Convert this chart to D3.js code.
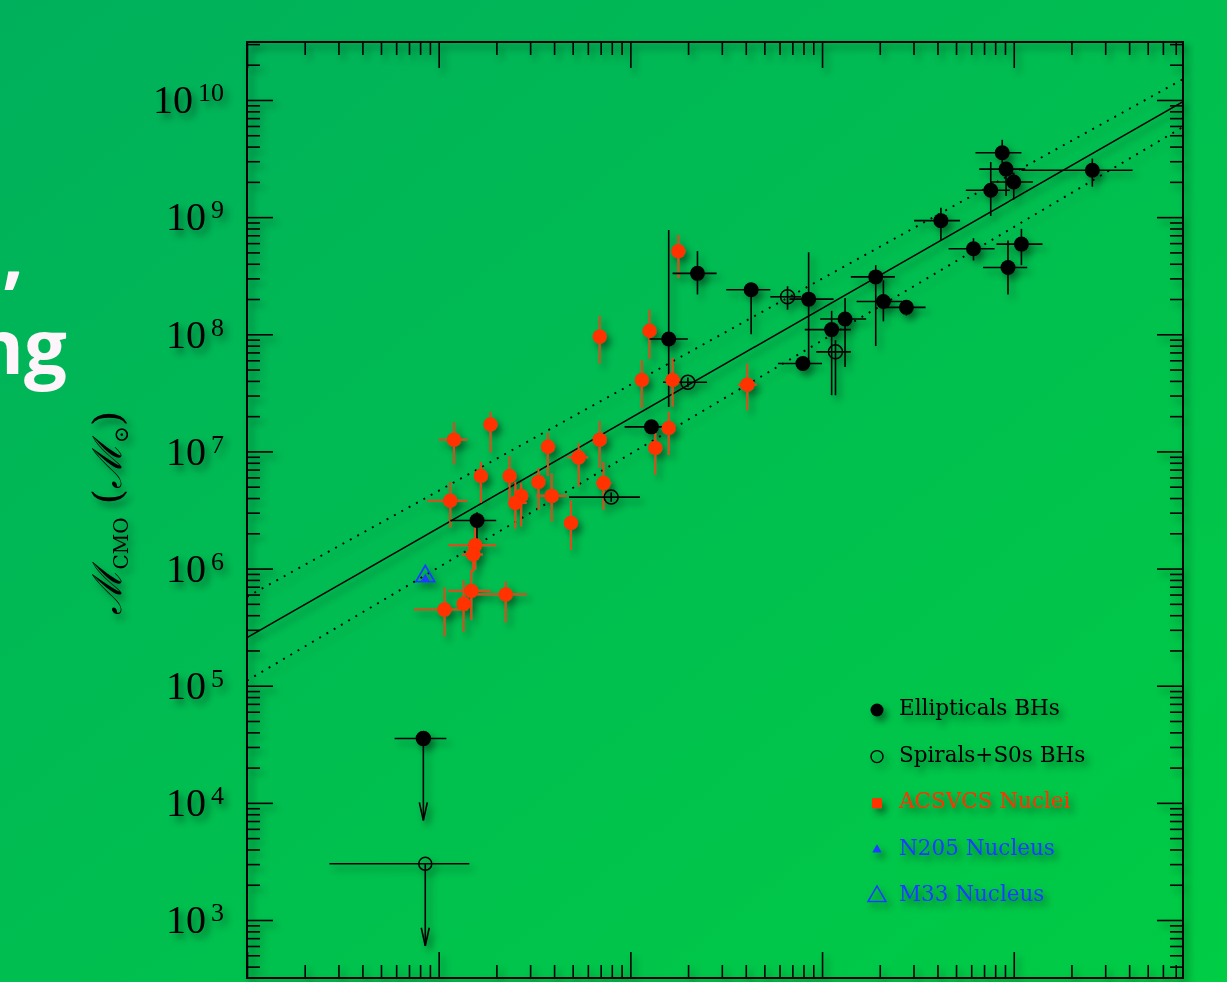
<!DOCTYPE html>
<html>
<head>
<meta charset="utf-8">
<script src="https://cdn.jsdelivr.net/npm/d3@7"></script>
<style>
  html, body { margin: 0; padding: 0; overflow: hidden; }
</style>
</head>
<body>
<div id="chart"></div>
<script>
// All values are log10. Rows: [M_gal, M_gal low, M_gal high, M_CMO, M_CMO low, M_CMO high]
const ellipticals = [
  [9.20, 9.06, 9.30, 6.41, 6.25, 6.48],
  [10.11, 9.97, 10.18, 7.21, 7.17, 7.25],
  [10.20, 10.10, 10.30, 7.96, 7.38, 8.89],
  [10.35, 10.22, 10.45, 8.52, 8.34, 8.71],
  [10.63, 10.50, 10.73, 8.38, 8.00, 8.38],
  [10.93, 10.83, 11.06, 8.30, 7.76, 8.70],
  [10.90, 10.77, 11.00, 7.75, 7.75, 7.75],
  [11.05, 10.91, 11.15, 8.04, 7.48, 8.20],
  [11.12, 10.99, 11.23, 8.13, 7.72, 8.31],
  [11.28, 11.15, 11.38, 8.49, 7.90, 8.59],
  [11.32, 11.18, 11.42, 8.28, 8.11, 8.46],
  [11.44, 11.33, 11.54, 8.23, 8.16, 8.29],
  [11.62, 11.48, 11.72, 8.97, 8.80, 9.08],
  [11.79, 11.66, 11.90, 8.73, 8.63, 8.82],
  [11.97, 11.84, 12.07, 8.57, 8.34, 8.80],
  [12.04, 11.91, 12.15, 8.77, 8.59, 8.90],
  [11.88, 11.75, 11.98, 9.23, 9.01, 9.47],
  [11.94, 11.80, 12.04, 9.55, 9.46, 9.66],
  [11.96, 11.82, 12.06, 9.41, 9.18, 9.47],
  [12.00, 11.88, 12.10, 9.30, 9.15, 9.38],
  [12.41, 12.04, 12.62, 9.40, 9.26, 9.50]
];

const spirals = [
  [9.90, 9.68, 10.05, 6.61, 6.57, 6.65],
  [10.30, 10.17, 10.40, 7.59, 7.55, 7.63],
  [10.82, 10.73, 10.89, 8.32, 8.21, 8.41],
  [11.07, 10.97, 11.15, 7.85, 7.48, 7.95]
];

const acsvcsNuclei = [
  [9.08, 9.00, 9.15, 7.10, 6.89, 7.25],
  [9.27, 9.27, 9.27, 7.23, 6.99, 7.34],
  [9.22, 9.22, 9.22, 6.79, 6.56, 6.91],
  [9.37, 9.37, 9.37, 6.79, 6.59, 6.96],
  [9.57, 9.57, 9.57, 7.04, 6.79, 7.16],
  [9.52, 9.52, 9.52, 6.74, 6.50, 6.86],
  [9.59, 9.51, 9.67, 6.62, 6.40, 6.81],
  [9.43, 9.43, 9.43, 6.62, 6.36, 6.73],
  [9.40, 9.36, 9.46, 6.56, 6.34, 6.74],
  [9.06, 8.94, 9.15, 6.58, 6.35, 6.74],
  [9.69, 9.69, 9.69, 6.39, 6.16, 6.58],
  [9.73, 9.67, 9.78, 6.95, 6.70, 7.07],
  [9.19, 9.05, 9.30, 6.20, 5.99, 6.37],
  [9.18, 9.12, 9.23, 6.12, 5.97, 6.25],
  [9.17, 9.05, 9.27, 5.81, 5.56, 5.99],
  [9.35, 9.20, 9.46, 5.78, 5.54, 5.89],
  [9.13, 9.13, 9.13, 5.70, 5.46, 5.90],
  [9.03, 8.87, 9.15, 5.65, 5.42, 5.84],
  [9.84, 9.84, 9.84, 7.98, 7.75, 8.16],
  [10.10, 10.10, 10.10, 8.03, 7.79, 8.21],
  [10.25, 10.25, 10.25, 8.71, 8.48, 8.85],
  [10.06, 10.06, 10.06, 7.61, 7.37, 7.78],
  [10.22, 10.18, 10.26, 7.61, 7.38, 7.80],
  [10.20, 10.20, 10.20, 7.20, 6.97, 7.34],
  [10.13, 10.13, 10.13, 7.03, 6.80, 7.21],
  [9.84, 9.84, 9.84, 7.10, 6.86, 7.26],
  [9.86, 9.82, 9.90, 6.73, 6.50, 6.91],
  [10.61, 10.56, 10.66, 7.57, 7.35, 7.75]
];

// upper limits: [M_gal, low, high, M_CMO limit]
const ellipticalLimits = [[8.92, 8.77, 9.04, 4.55]];
const spiralLimits = [[8.93, 8.43, 9.16, 3.48]];

// single nuclei: [M_gal, M_CMO]
const n205Nucleus = [8.93, 5.91];
const m33Nucleus = [8.93, 5.935];

// fits: [log M_CMO at log M_gal = 8, slope]
const fitSolid = [5.41, 0.937];
const fitUpper = [5.759, 0.905];
const fitLower = [5.043, 0.968];

const xDomainLog = [8, 12.883];
const yDomainLog = [2.505, 10.495];
const yTickExps = [3, 4, 5, 6, 7, 8, 9, 10];

const legendLabels = ["Ellipticals BHs", "Spirals+S0s BHs", "ACSVCS Nuclei", "N205 Nucleus", "M33 Nucleus"];

// ---------------------------------------------------------------
const width = 1227, height = 982;
const frame = { left: 247, right: 1183, top: 42, bottom: 978 };
const red = "#ff3000", redBar = "#e4461a", blue = "#1c3cff";
const p10 = v => Math.pow(10, v);

const svg = d3.select("#chart").append("svg")
  .attr("width", width)
  .attr("height", height)
  .style("display", "block");

const defs = svg.append("defs");
const grad = defs.append("linearGradient")
  .attr("id", "bg").attr("x1", "0").attr("y1", "0").attr("x2", "1").attr("y2", "1");
grad.append("stop").attr("offset", "0").attr("stop-color", "#00b05c");
grad.append("stop").attr("offset", "1").attr("stop-color", "#00cc44");

const shadow = defs.append("filter").attr("id", "shadow")
  .attr("x", "-20%").attr("y", "-20%").attr("width", "140%").attr("height", "140%");
shadow.append("feDropShadow")
  .attr("dx", 4).attr("dy", 5).attr("stdDeviation", 3.5)
  .attr("flood-color", "#000").attr("flood-opacity", 0.45);

defs.append("clipPath").attr("id", "plotClip")
  .append("rect")
  .attr("x", frame.left).attr("y", frame.top)
  .attr("width", frame.right - frame.left).attr("height", frame.bottom - frame.top);

svg.append("rect").attr("width", width).attr("height", height).attr("fill", "url(#bg)");

// slide title remnants on the left
const title = svg.append("g")
  .attr("font-family", "'Open Sans', 'Noto Sans', sans-serif")
  .attr("font-weight", 700)
  .attr("font-size", 76)
  .attr("fill", "#fdf5fa")
  .attr("text-anchor", "end");
title.append("text").attr("x", 24).attr("y", 280).text("s,");
title.append("text").attr("x", 67).attr("y", 374).text("ng");

// scales
const x = d3.scaleLog().domain(xDomainLog.map(p10)).range([frame.left, frame.right]);
const y = d3.scaleLog().domain(yDomainLog.map(p10)).range([frame.bottom, frame.top]);

const plot = svg.append("g").attr("filter", "url(#shadow)");

// tick values
function majorMinor(domainLog) {
  const major = [], minor = [];
  for (let e = Math.floor(domainLog[0]); e <= Math.ceil(domainLog[1]); e++) {
    for (let k = 1; k <= 9; k++) {
      const v = k * p10(e);
      const lv = Math.log10(v);
      if (lv < domainLog[0] - 1e-6 || lv > domainLog[1] + 1e-6) continue;
      (k === 1 ? major : minor).push(v);
    }
  }
  return { major, minor };
}
const xt = majorMinor(xDomainLog);
const yt = majorMinor(yDomainLog);

function drawAxis(axisFn, scale, values, size, transform) {
  const g = plot.append("g")
    .attr("transform", transform)
    .call(axisFn(scale).tickValues(values).tickSize(-size).tickFormat(""));
  g.select(".domain").remove();
  g.selectAll(".tick line").attr("stroke", "#000").attr("stroke-width", 1.6);
  return g;
}

const majorLen = 26, minorLen = 13;
drawAxis(d3.axisBottom, x, xt.major, majorLen, `translate(0,${frame.bottom})`);
drawAxis(d3.axisBottom, x, xt.minor, minorLen, `translate(0,${frame.bottom})`);
drawAxis(d3.axisTop, x, xt.major, majorLen, `translate(0,${frame.top})`);
drawAxis(d3.axisTop, x, xt.minor, minorLen, `translate(0,${frame.top})`);
drawAxis(d3.axisRight, y, yt.major, majorLen, `translate(${frame.right},0)`);
drawAxis(d3.axisRight, y, yt.minor, minorLen, `translate(${frame.right},0)`);
drawAxis(d3.axisLeft, y, yt.minor, minorLen, `translate(${frame.left},0)`);

// left major ticks with 10^n labels
const yAxisLeft = plot.append("g")
  .attr("transform", `translate(${frame.left},0)`)
  .call(d3.axisLeft(y).tickValues(yTickExps.map(p10)).tickSize(-majorLen).tickPadding(23).tickFormat(""));
yAxisLeft.select(".domain").remove();
yAxisLeft.selectAll(".tick line").attr("stroke", "#000").attr("stroke-width", 1.6);
yAxisLeft.selectAll(".tick text")
  .attr("fill", "#000")
  .attr("font-family", "'Liberation Serif', 'DejaVu Serif', serif")
  .attr("font-size", 40)
  .attr("dy", "0.32em")
  .each(function(d) {
    const t = d3.select(this).text(null);
    t.append("tspan").text("10");
    t.append("tspan").attr("font-size", 26).attr("dx", 5).attr("dy", -12).text(Math.round(Math.log10(d)));
  });

// frame
plot.append("rect")
  .attr("x", frame.left).attr("y", frame.top)
  .attr("width", frame.right - frame.left).attr("height", frame.bottom - frame.top)
  .attr("fill", "none").attr("stroke", "#000").attr("stroke-width", 2);

// y axis title
const yTitle = plot.append("text")
  .attr("transform", `translate(121, 513) rotate(-90)`)
  .attr("text-anchor", "middle")
  .attr("font-family", "'DejaVu Serif', serif")
  .attr("font-style", "italic")
  .attr("font-size", 40)
  .attr("fill", "#000");
yTitle.append("tspan").text("\u2133");
yTitle.append("tspan").attr("font-style", "normal").attr("font-size", 20).attr("dy", 7).text("CMO");
yTitle.append("tspan").attr("font-style", "normal").attr("dy", -7).text(" (");
yTitle.append("tspan").text("\u2133");
yTitle.append("tspan").attr("font-style", "normal").attr("font-size", 20).attr("dy", 7).text("\u2299");
yTitle.append("tspan").attr("font-style", "normal").attr("dy", -7).text(")");

// fit lines
const marks = plot.append("g").attr("clip-path", "url(#plotClip)");
const fitLine = fit => {
  const xs = xDomainLog;
  return d3.line()(xs.map(lx => [x(p10(lx)), y(p10(fit[0] + fit[1] * (lx - 8)))]));
};
marks.append("path").attr("d", fitLine(fitSolid))
  .attr("fill", "none").attr("stroke", "#000").attr("stroke-width", 1.5);
[fitUpper, fitLower].forEach(f => {
  marks.append("path").attr("d", fitLine(f))
    .attr("fill", "none").attr("stroke", "#000").attr("stroke-width", 1.9)
    .attr("stroke-dasharray", "1.9,6.5");
});

// error bars
function errorBars(rows, color, widthPx) {
  const g = marks.append("g").attr("stroke", color).attr("stroke-width", widthPx);
  rows.forEach(r => {
    if (r[2] > r[1]) {
      g.append("line")
        .attr("x1", x(p10(r[1]))).attr("x2", x(p10(r[2])))
        .attr("y1", y(p10(r[3]))).attr("y2", y(p10(r[3])));
    }
    if (r[5] > r[4]) {
      g.append("line")
        .attr("x1", x(p10(r[0]))).attr("x2", x(p10(r[0])))
        .attr("y1", y(p10(r[4]))).attr("y2", y(p10(r[5])));
    }
  });
}

errorBars(acsvcsNuclei, redBar, 2);
errorBars(ellipticals, "#000", 1.6);
errorBars(spirals, "#000", 1.6);

// upper limits
const arrowDex = 0.7;
function limits(rows, filled) {
  rows.forEach(r => {
    const cx = x(p10(r[0])), cy = y(p10(r[3]));
    const yEnd = y(p10(r[3] - arrowDex));
    marks.append("line")
      .attr("x1", x(p10(r[1]))).attr("x2", x(p10(r[2])))
      .attr("y1", cy).attr("y2", cy)
      .attr("stroke", "#000").attr("stroke-width", 1.6);
    marks.append("line")
      .attr("x1", cx).attr("x2", cx).attr("y1", cy).attr("y2", yEnd)
      .attr("stroke", "#000").attr("stroke-width", 1.6);
    marks.append("path")
      .attr("d", `M${cx - 4},${yEnd - 18}L${cx},${yEnd}L${cx + 4},${yEnd - 18}`)
      .attr("fill", "none").attr("stroke", "#000").attr("stroke-width", 1.6);
    marks.append("circle")
      .attr("cx", cx).attr("cy", cy).attr("r", filled ? 7 : 6.5)
      .attr("fill", filled ? "#000" : "none")
      .attr("stroke", "#000").attr("stroke-width", 1.5);
  });
}
limits(ellipticalLimits, true);
limits(spiralLimits, false);

// points
marks.append("g").selectAll("circle").data(acsvcsNuclei).join("circle")
  .attr("cx", d => x(p10(d[0]))).attr("cy", d => y(p10(d[3])))
  .attr("r", 7.2).attr("fill", red);

marks.append("g").selectAll("circle").data(ellipticals).join("circle")
  .attr("cx", d => x(p10(d[0]))).attr("cy", d => y(p10(d[3])))
  .attr("r", 7.5).attr("fill", "#000");

marks.append("g").selectAll("circle").data(spirals).join("circle")
  .attr("cx", d => x(p10(d[0]))).attr("cy", d => y(p10(d[3])))
  .attr("r", 7).attr("fill", "none").attr("stroke", "#000").attr("stroke-width", 1.5);

marks.append("path")
  .attr("transform", `translate(${x(p10(m33Nucleus[0]))},${y(p10(m33Nucleus[1]))})`)
  .attr("d", d3.symbol(d3.symbolTriangle, 150)())
  .attr("fill", "none").attr("stroke", blue).attr("stroke-width", 1.8);
marks.append("path")
  .attr("transform", `translate(${x(p10(n205Nucleus[0]))},${y(p10(n205Nucleus[1]))})`)
  .attr("d", d3.symbol(d3.symbolTriangle, 40)())
  .attr("fill", blue);

// legend
const legendColors = ["#000", "#000", red, blue, blue];
const legend = plot.append("g").attr("transform", "translate(877,710)");
const items = legend.selectAll("g").data(legendLabels).join("g")
  .attr("transform", (d, i) => `translate(0,${i * 46.6})`);
items.each(function(d, i) {
  const g = d3.select(this);
  if (i === 0) g.append("circle").attr("r", 6.5).attr("fill", "#000");
  if (i === 1) g.append("circle").attr("r", 6).attr("fill", "none").attr("stroke", "#000").attr("stroke-width", 1.4);
  if (i === 2) g.append("rect").attr("x", -5).attr("y", -5).attr("width", 10).attr("height", 10).attr("fill", red);
  if (i === 3) g.append("path").attr("d", d3.symbol(d3.symbolTriangle, 40)()).attr("fill", blue);
  if (i === 4) g.append("path").attr("d", d3.symbol(d3.symbolTriangle, 140)())
    .attr("fill", "none").attr("stroke", blue).attr("stroke-width", 1.5);
});
items.append("text")
  .attr("x", 22).attr("y", 5)
  .attr("font-family", "'DejaVu Serif', serif")
  .attr("font-size", 21.5)
  .attr("fill", (d, i) => legendColors[i])
  .text(d => d);
</script>
</body>
</html>
